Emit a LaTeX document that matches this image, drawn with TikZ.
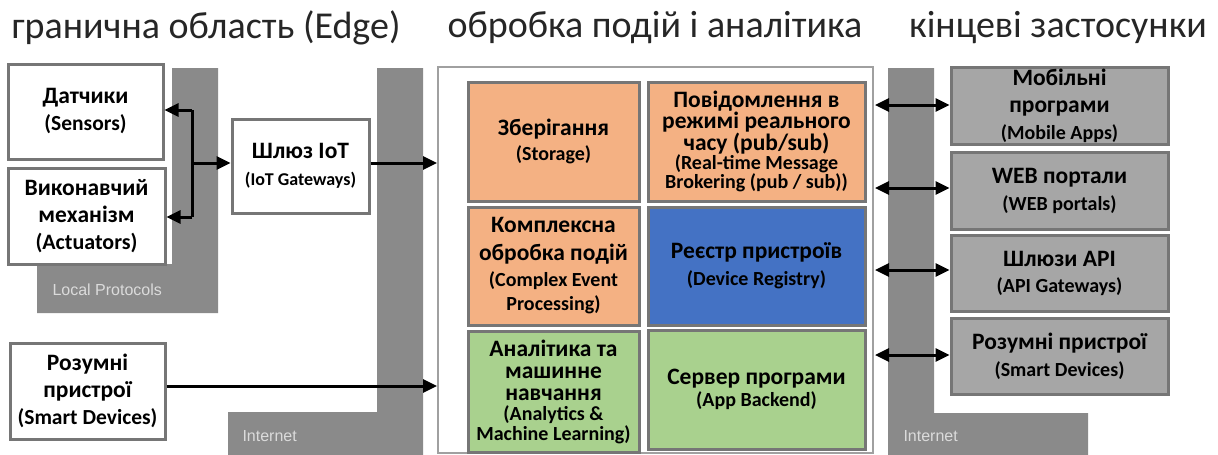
\documentclass[tikz,border=0pt]{standalone}
\usepackage{fontspec}
\setmainfont{Carlito}
\newfontfamily\labelfont{Liberation Sans}
\usetikzlibrary{arrows.meta}
\definecolor{bargray}{HTML}{8A8A8A}
\definecolor{edgegray}{HTML}{767676}
\definecolor{framegray}{HTML}{A0A0A0}
\definecolor{orangefill}{HTML}{F4B183}
\definecolor{bluefill}{HTML}{4472C4}
\definecolor{greenfill}{HTML}{A9D18E}
\definecolor{appgray}{HTML}{A6A6A6}
\definecolor{titlegray}{HTML}{262626}
\newcommand{\subtxt}[2][20]{{\fontsize{#1}{#1}\selectfont #2}}
\tikzset{
  boxfont/.style={font=\fontsize{23.5}{27}\selectfont\bfseries},
  box/.style={draw=edgegray, line width=3pt, fill=white, align=center, inner sep=2pt, boxfont},
  cell/.style={draw=edgegray, line width=3pt, align=center, inner sep=2pt, boxfont},
  appbox/.style={draw=edgegray, line width=3pt, fill=appgray, align=center, inner sep=2pt, boxfont},
  frame/.style={draw=framegray, line width=2pt, fill=white},
  bar/.style={fill=bargray, draw=none},
  barlabel/.style={text=white!86!black, font=\labelfont\fontsize{16}{16}\selectfont, anchor=west},
  heading/.style={text=titlegray, font=\fontsize{38}{38}\selectfont},
  flow/.style={line width=3pt, -{Triangle[length=14pt,width=13pt]}},
  dflow/.style={line width=3pt, {Triangle[length=14pt,width=13pt]}-{Triangle[length=14pt,width=13pt]}}
}
\begin{document}
\begin{tikzpicture}[x=1pt,y=-1pt]
\useasboundingbox (0,0) rectangle (1218,455);

% headings
\node[heading] (h1) at (206,28) {гранична область (Edge)};
\node[heading] (h2) at (655,28) {обробка подій і аналітика};
\node[heading] (h3) at (1058,28) {кінцеві застосунки};

% protocol bars
\fill[bar] (172,68) -- (218,68) -- (218,313) -- (37,313) -- (37,264) -- (172,264) -- cycle;
\fill[bar] (377,68) -- (423,68) -- (423,455) -- (228,455) -- (228,412) -- (377,412) -- cycle;
\fill[bar] (888,68) -- (934,68) -- (934,413) -- (1088,413) -- (1088,455) -- (888,455) -- cycle;
\node[barlabel] (lp) at (49,290) {Local Protocols};
\node[barlabel] (in1) at (239,436) {Internet};
\node[barlabel] (in2) at (900,436) {Internet};

% edge devices
\node[box, minimum width=155pt, minimum height=95pt] (sens) at (85.5,111.5)
  {Датчики\\ \subtxt[21.5]{(Sensors)}};
\node[box, minimum width=157pt, minimum height=96pt] (act) at (86.5,216)
  {Виконавчий\\механізм\\ \subtxt[22]{(Actuators)}};
\node[box, minimum width=137pt, minimum height=94pt] (gw) at (300.5,166)
  {Шлюз IoT\\ \subtxt[18]{(IoT Gateways)}};
\node[box, minimum width=155pt, minimum height=96pt] (smartL) at (87.5,391)
  {Розумні\\пристрої\\ \subtxt[21.5]{(Smart Devices)}};

% processing frame
\node[frame, minimum width=435pt, minimum height=386pt] (fr) at (655.5,260) {};
\node[cell, fill=orangefill, minimum width=171pt, minimum height=119pt] (stor) at (553.5,141.5)
  {Зберігання\\[-2pt] \subtxt{(Storage)}};
\node[cell, fill=orangefill, minimum width=217pt, minimum height=119pt,
      font=\fontsize{23.5}{20}\selectfont\bfseries] (msg) at (756.5,141.5)
  {Повідомлення в\\режимі реального\\часу (pub/sub)\\[-1pt]
   \subtxt{(Real-time Message}\\[-1pt] \subtxt{Brokering (pub / sub))}};
\node[cell, fill=orangefill, minimum width=171pt, minimum height=118pt,
      font=\fontsize{23.5}{28}\selectfont\bfseries] (cep) at (553.5,266)
  {Комплексна\\обробка подій\\[-2pt] \subtxt{(Complex Event}\\[-4pt] \subtxt{Processing)}};
\node[cell, fill=bluefill, minimum width=217pt, minimum height=118pt] (reg) at (756.5,266)
  {Реєстр пристроїв\\ \subtxt{(Device Registry)}};
\node[cell, fill=greenfill, minimum width=171pt, minimum height=121pt,
      font=\fontsize{23.5}{22}\selectfont\bfseries] (ana) at (553.5,391.5)
  {Аналітика та\\машинне\\навчання\\[-2pt]
   \subtxt{(Analytics \&}\\[-2pt] \subtxt{Machine Learning)}};
\node[cell, fill=greenfill, minimum width=217pt, minimum height=119pt,
      font=\fontsize{23.5}{22}\selectfont\bfseries] (app) at (756.5,389.5)
  {Сервер програми\\ \subtxt{(App Backend)}};

% end applications
\node[appbox, minimum width=217pt, minimum height=76pt] (mob) at (1059.5,106)
  {Мобільні\\програми\\ \subtxt{(Mobile Apps)}};
\node[appbox, minimum width=217pt, minimum height=77pt] (web) at (1059.5,190.5)
  {WEB портали\\ \subtxt{(WEB portals)}};
\node[appbox, minimum width=217pt, minimum height=76pt] (api) at (1059.5,273)
  {Шлюзи API\\[-1pt] \subtxt{(API Gateways)}};
\node[appbox, minimum width=217pt, minimum height=76pt] (smartR) at (1059.5,356)
  {Розумні пристрої\\ \subtxt{(Smart Devices)}};

% connectors
\coordinate (jt) at (192,110);
\coordinate (jb) at (192,217);
\coordinate (jm) at (192,163);
\draw[line width=3pt] (jt) -- (jb);
\draw[flow] (jt) -- (sens.east |- jt);
\draw[flow] (jb) -- (act.east |- jb);
\draw[flow] (jm) -- (gw.west |- jm);
\draw[flow] (gw.east |- jm) -- (fr.west |- jm);
\coordinate (sl) at (smartL.east |- 0,386);
\draw[flow] (sl) -- (fr.west |- sl);
\foreach \t/\y in {mob/105, web/188, api/270, smartR/355}{
  \coordinate (a\t) at (875,\y);
  \draw[dflow] (a\t) -- (\t.west |- a\t);
}
\end{tikzpicture}
\end{document}
